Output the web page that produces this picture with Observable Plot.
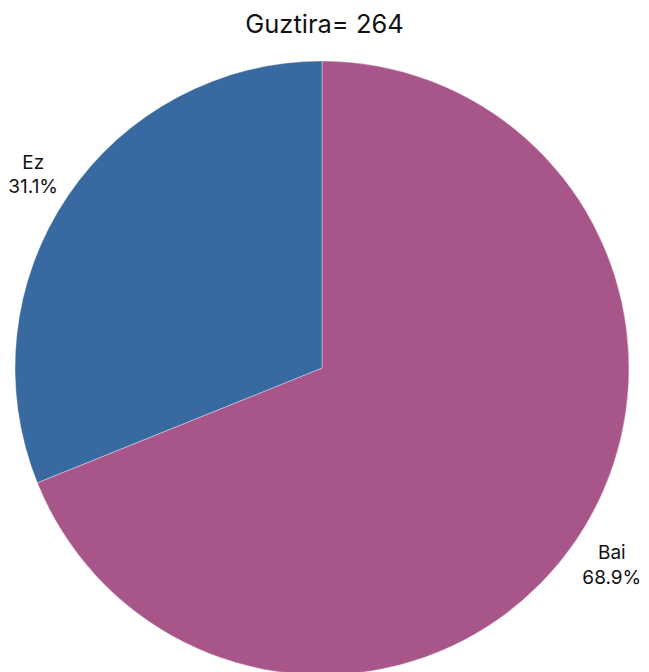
<!DOCTYPE html>
<html>
<head>
<meta charset="utf-8">
<script src="https://cdn.jsdelivr.net/npm/d3@7"></script>
<script src="https://cdn.jsdelivr.net/npm/@observablehq/plot@0.6"></script>
<style>
  html, body { margin: 0; padding: 0; background: #fff; }
  #wrap { width: 649px; font-family: Inter, "Noto Sans", sans-serif; }
  #title { height: 48px; line-height: 48px; text-align: center; font-size: 25.5px; color: #111; }
  svg { display: block; overflow: hidden; }
</style>
</head>
<body>
<div id="wrap">
  <div id="title"></div>
  <div id="chart"></div>
</div>
<script>
const categories = ["Bai", "Ez"];
const percents = [68.9, 31.1];
const total = 264;
const colors = ["#a8568a", "#3869a0"];
const titleText = "Guztira= " + total;

document.getElementById("title").textContent = titleText;

const W = 649, H = 624;
const cx = 322, cy = 320, R = 307;
const data = categories.map((c, i) => ({cat: c, pct: percents[i], color: colors[i]}));
const arcs = d3.pie().sort(null).value(d => d.pct)(data);
const arcGen = d3.arc().innerRadius(0).outerRadius(R);
const labelArc = d3.arc().innerRadius(R * 1.137).outerRadius(R * 1.137);
const labelData = arcs.map(a => {
  const [lx, ly] = labelArc.centroid(a);
  return {x: cx + lx, y: cy + ly, text: a.data.cat + "\n" + a.data.pct.toFixed(1) + "%"};
});

const slices = (index, scales, values, dims) => {
  const g = d3.create("svg:g").attr("transform", `translate(${cx},${cy})`);
  g.selectAll("path").data(arcs).join("path")
    .attr("d", arcGen)
    .attr("fill", d => d.data.color)
    .attr("stroke", "#ffffff")
    .attr("stroke-width", 0.6)
    .attr("stroke-opacity", 0.6);
  return g.node();
};

const chart = Plot.plot({
  width: W, height: H, margin: 0,
  style: {fontFamily: "Inter, 'Noto Sans', sans-serif", background: "#fff"},
  x: {domain: [0, W], range: [0, W], axis: null},
  y: {domain: [0, H], range: [0, H], axis: null},
  marks: [
    slices,
    Plot.text(labelData, {x: "x", y: "y", text: "text", fontSize: 19, lineHeight: 1.27, fill: "#111", textAnchor: "middle", lineAnchor: "middle"})
  ]
});
document.getElementById("chart").appendChild(chart);
</script>
</body>
</html>
